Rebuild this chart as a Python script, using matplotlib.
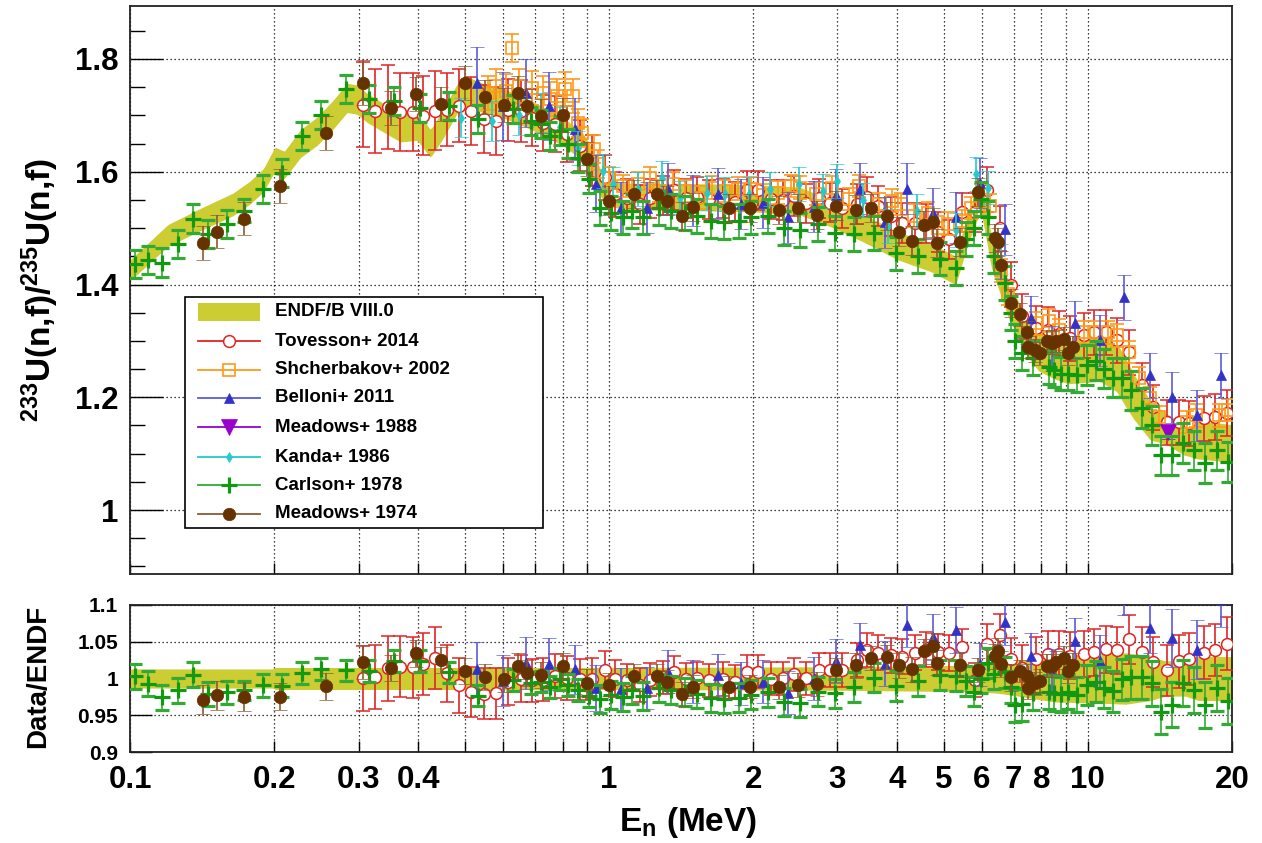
import numpy as np
import matplotlib
matplotlib.use("Agg")
import matplotlib.pyplot as plt
from matplotlib.patches import Rectangle
from matplotlib.lines import Line2D
from matplotlib.ticker import FixedLocator, FixedFormatter, NullLocator

plt.rcParams['font.family'] = ['Liberation Sans', 'DejaVu Sans']
plt.rcParams['font.weight'] = 'bold'
plt.rcParams['mathtext.fontset'] = 'custom'
plt.rcParams['mathtext.rm'] = 'Liberation Sans:bold'
plt.rcParams['mathtext.bf'] = 'Liberation Sans:bold'
plt.rcParams['mathtext.it'] = 'Liberation Sans:bold'

# ---------------- data ----------------
endf_E = [0.1, 0.12, 0.14, 0.164, 0.178, 0.19, 0.2, 0.21, 0.227, 0.246, 0.266, 0.284, 0.298,
          0.313, 0.338, 0.367, 0.398, 0.424, 0.451, 0.483, 0.505, 0.548, 0.6, 0.69, 0.8, 0.88,
          0.92, 0.96, 1.0, 1.1, 1.5, 2.0, 2.5, 2.9, 3.4, 4.0, 4.7, 5.3, 5.6, 5.87, 6.0, 6.3,
          6.8, 7.5, 7.9, 9.1, 10.6, 11.5, 12.5, 13.5, 14.7, 15.9, 17.2, 20.0]
endf_val = [1.425, 1.487, 1.515, 1.542, 1.563, 1.585, 1.62, 1.612, 1.65, 1.672, 1.702, 1.731,
            1.728, 1.713, 1.696, 1.678, 1.681, 1.65, 1.685, 1.731, 1.743, 1.73, 1.722, 1.70,
            1.672, 1.645, 1.62, 1.58, 1.562, 1.556, 1.555, 1.553, 1.548, 1.527, 1.50, 1.469,
            1.448, 1.425, 1.495, 1.543, 1.554, 1.455, 1.375, 1.305, 1.283, 1.265, 1.271, 1.253,
            1.20, 1.159, 1.142, 1.124, 1.124, 1.118]
unc_E = [0.1, 0.199, 0.201, 1.0, 3.0, 5.8, 6.5, 7.5, 8.5, 10.0, 12.0, 13.5, 14.5, 16.0, 17.0, 20.0]
unc_rel = [0.013, 0.013, 0.015, 0.015, 0.016, 0.018, 0.02, 0.026, 0.032, 0.033, 0.035, 0.03,
           0.024, 0.024, 0.03, 0.03]

tov_E = [0.307, 0.325, 0.345, 0.366, 0.39, 0.41, 0.433, 0.46, 0.486, 0.515, 0.548, 0.58, 0.616,
         0.654, 0.69, 0.73, 0.77, 0.816, 0.87, 0.92, 0.98, 1.03, 1.09, 1.16, 1.22, 1.30, 1.37,
         1.45, 1.53, 1.62, 1.73, 1.83, 1.94, 2.05, 2.18, 2.31, 2.44, 2.58, 2.75, 2.9, 3.07, 3.3,
         3.46, 3.65, 3.89, 4.1, 4.36, 4.6, 4.87, 5.14, 5.47, 5.8, 6.17, 6.54, 6.9, 7.3, 7.8,
         8.25, 8.7, 9.2, 9.8, 10.3, 10.9, 11.5, 12.2, 13.0, 13.7, 14.6, 15.5, 16.3, 17.5, 18.4,
         19.5]
tov_v = [1.719, 1.708, 1.715, 1.706, 1.706, 1.699, 1.708, 1.71, 1.717, 1.708, 1.694, 1.69, 1.71,
         1.708, 1.696, 1.687, 1.685, 1.667, 1.646, 1.62, 1.59, 1.56, 1.553, 1.542, 1.553, 1.558,
         1.568, 1.553, 1.555, 1.551, 1.553, 1.547, 1.567, 1.567, 1.551, 1.55, 1.557, 1.544, 1.553,
         1.545, 1.535, 1.543, 1.555, 1.539, 1.521, 1.509, 1.509, 1.508, 1.493, 1.48, 1.528, 1.528,
         1.568, 1.50, 1.40, 1.344, 1.322, 1.32, 1.313, 1.305, 1.31, 1.315, 1.315, 1.301, 1.28,
         1.221, 1.182, 1.156, 1.156, 1.154, 1.163, 1.165, 1.172]
tov_err = [0.075, 0.075, 0.075, 0.07, 0.07, 0.07, 0.07, 0.065, 0.065, 0.06, 0.06, 0.06, 0.055,
           0.055, 0.05, 0.05, 0.05, 0.05, 0.045, 0.045, 0.04, 0.04, 0.035, 0.035, 0.035, 0.035,
           0.035, 0.035, 0.035, 0.035, 0.035, 0.035, 0.035, 0.035, 0.035, 0.035, 0.035, 0.035,
           0.035, 0.035, 0.035, 0.035, 0.035, 0.035, 0.035, 0.035, 0.035, 0.035, 0.035, 0.035,
           0.035, 0.035, 0.04, 0.04, 0.04, 0.04, 0.04, 0.04, 0.04, 0.04, 0.04, 0.04, 0.04, 0.04,
           0.04, 0.04, 0.04, 0.04, 0.04, 0.04, 0.04, 0.04, 0.04]

sch_E = [0.56, 0.58, 0.61, 0.628, 0.65, 0.69, 0.73, 0.755, 0.78, 0.81, 0.84, 0.86, 0.88, 0.93,
         0.95, 1.0, 1.07, 1.15, 1.22, 1.27, 1.36, 1.44, 1.54, 1.64, 1.74, 1.86, 1.98, 2.1, 2.25,
         2.4, 2.51, 2.7, 2.92, 3.17, 3.33, 3.67, 3.9, 4.08, 4.33, 4.64, 4.87, 5.1, 5.45, 5.7,
         5.98, 6.26, 6.6, 6.8, 7.8, 8.3, 8.7, 9.8, 10.3, 11.0, 11.5, 12.2, 12.8, 13.5, 14.1,
         16.1, 16.8, 18.8, 19.6]
sch_v = [1.74, 1.752, 1.743, 1.82, 1.752, 1.749, 1.74, 1.729, 1.735, 1.747, 1.735, 1.687, 1.669,
         1.64, 1.614, 1.589, 1.575, 1.579, 1.589, 1.566, 1.579, 1.566, 1.554, 1.572, 1.566, 1.57,
         1.57, 1.558, 1.563, 1.575, 1.572, 1.561, 1.572, 1.552, 1.575, 1.543, 1.549, 1.543, 1.522,
         1.527, 1.501, 1.508, 1.513, 1.536, 1.558, 1.54, 1.425, 1.384, 1.331, 1.336, 1.319, 1.315,
         1.315, 1.315, 1.31, 1.28, 1.234, 1.198, 1.165, 1.156, 1.168, 1.168, 1.177]
sch_err = [0.03, 0.03, 0.03, 0.025, 0.03, 0.03, 0.03, 0.03, 0.03, 0.03, 0.03, 0.025, 0.025, 0.025,
           0.025, 0.02, 0.02, 0.02, 0.02, 0.02, 0.02, 0.02, 0.02, 0.02, 0.02, 0.02, 0.02, 0.02,
           0.02, 0.02, 0.02, 0.02, 0.02, 0.02, 0.02, 0.02, 0.02, 0.02, 0.02, 0.02, 0.02, 0.02,
           0.02, 0.02, 0.02, 0.02, 0.02, 0.02, 0.02, 0.02, 0.02, 0.02, 0.02, 0.02, 0.02, 0.02,
           0.02, 0.02, 0.02, 0.02, 0.02, 0.02, 0.02]

bel_E = [0.53, 0.60, 0.67, 0.75, 0.85, 0.94, 1.06, 1.2, 1.33, 1.5, 1.69, 1.89, 2.1, 2.37, 2.68,
         2.98, 3.35, 3.77, 4.2, 4.75, 5.3, 5.95, 6.7, 7.6, 8.4, 9.4, 10.6, 11.9, 13.5, 15.0,
         16.9, 19.0]
bel_v = [1.757, 1.717, 1.74, 1.717, 1.676, 1.579, 1.536, 1.536, 1.57, 1.549, 1.561, 1.543, 1.545,
         1.519, 1.538, 1.559, 1.57, 1.51, 1.57, 1.527, 1.519, 1.58, 1.498, 1.34, 1.287, 1.331,
         1.301, 1.377, 1.239, 1.20, 1.168, 1.239]
bel_err = [0.065, 0.06, 0.06, 0.06, 0.055, 0.05, 0.045, 0.045, 0.045, 0.045, 0.045, 0.045, 0.045,
           0.045, 0.045, 0.045, 0.045, 0.045, 0.045, 0.045, 0.045, 0.045, 0.045, 0.04, 0.04,
           0.04, 0.045, 0.04, 0.04, 0.045, 0.045, 0.04]

m88_E = [14.7]
m88_v = [1.138]
m88_err = [0.012]

kan_E = [0.49, 0.57, 0.65, 0.72, 0.79, 0.86, 0.97, 1.02, 1.15, 1.29, 1.41, 1.6, 1.75, 1.96, 2.17,
         2.5, 2.8, 3.0, 3.4, 3.82, 4.4, 5.3, 5.85, 6.2, 6.6]
kan_v = [1.696, 1.69, 1.70, 1.705, 1.68, 1.642, 1.602, 1.579, 1.57, 1.589, 1.554, 1.563, 1.561,
         1.561, 1.57, 1.579, 1.566, 1.584, 1.55, 1.504, 1.531, 1.496, 1.596, 1.572, 1.442]
kan_err = [0.035, 0.035, 0.035, 0.035, 0.035, 0.03, 0.03, 0.03, 0.03, 0.03, 0.03, 0.03, 0.03,
           0.03, 0.03, 0.03, 0.03, 0.03, 0.03, 0.03, 0.03, 0.03, 0.03, 0.03, 0.03]

car_E = [0.1024, 0.109, 0.1165, 0.126, 0.1355, 0.1456, 0.1595, 0.173, 0.190, 0.208, 0.229, 0.251,
         0.282, 0.315, 0.355, 0.404, 0.463, 0.534, 0.63, 0.687, 0.72, 0.755, 0.79, 0.82, 0.86,
         0.91, 0.96, 1.01, 1.07, 1.12, 1.18, 1.27, 1.35, 1.44, 1.53, 1.63, 1.74, 1.87, 1.98,
         2.15, 2.32, 2.51, 2.73, 2.97, 3.25, 3.58, 3.98, 4.43, 4.92, 5.3, 5.56, 5.78, 5.98, 6.2,
         6.38, 6.7, 6.9, 7.05, 7.3, 7.7, 8.3, 8.5, 8.8, 9.1, 9.5, 9.95, 10.4, 10.8, 11.3, 11.8,
         12.3, 13.0, 13.6, 14.2, 15.0, 15.8, 16.7, 17.6, 18.6, 19.6]
car_v = [1.437, 1.444, 1.439, 1.472, 1.517, 1.49, 1.508, 1.531, 1.57, 1.598, 1.664, 1.701, 1.747,
         1.729, 1.726, 1.713, 1.717, 1.694, 1.711, 1.69, 1.685, 1.664, 1.673, 1.65, 1.625, 1.588,
         1.535, 1.527, 1.519, 1.531, 1.519, 1.536, 1.531, 1.527, 1.522, 1.513, 1.51, 1.513, 1.519,
         1.522, 1.50, 1.496, 1.508, 1.492, 1.49, 1.492, 1.455, 1.451, 1.446, 1.43, 1.481, 1.50,
         1.552, 1.519, 1.451, 1.402, 1.349, 1.30, 1.278, 1.269, 1.253, 1.248, 1.242, 1.242, 1.239,
         1.257, 1.265, 1.251, 1.235, 1.235, 1.212, 1.181, 1.15, 1.097, 1.097, 1.119, 1.106, 1.083,
         1.106, 1.085]
car_err = [0.025, 0.025, 0.025, 0.025, 0.025, 0.025, 0.025, 0.02, 0.025, 0.025, 0.025, 0.025,
           0.025, 0.025, 0.025, 0.025, 0.025, 0.025, 0.025, 0.025, 0.025, 0.025, 0.025, 0.025,
           0.025, 0.025, 0.03, 0.03, 0.03, 0.03, 0.03, 0.03, 0.03, 0.03, 0.03, 0.03, 0.03, 0.03,
           0.03, 0.03, 0.03, 0.03, 0.03, 0.03, 0.03, 0.03, 0.03, 0.03, 0.03, 0.03, 0.03, 0.03,
           0.03, 0.03, 0.03, 0.03, 0.03, 0.03, 0.03, 0.03, 0.03, 0.03, 0.03, 0.03, 0.03, 0.035,
           0.035, 0.035, 0.035, 0.035, 0.035, 0.035, 0.035, 0.035, 0.035, 0.035, 0.035, 0.035,
           0.035, 0.035]

m74_E = [0.142, 0.152, 0.173, 0.206, 0.256, 0.306, 0.35, 0.396, 0.445, 0.50, 0.55, 0.603, 0.645,
         0.676, 0.72, 0.80, 0.90, 1.0, 1.13, 1.26, 1.32, 1.42, 1.50, 1.78, 1.97, 2.27, 2.48, 2.72,
         2.98, 3.28, 3.52, 3.8, 4.04, 4.3, 4.55, 4.75, 4.85, 5.4, 5.9, 6.4, 6.5, 6.6, 6.9, 7.2,
         7.45, 7.5, 7.75, 7.95, 8.2, 8.4, 8.6, 8.9, 9.1, 9.3]
m74_v = [1.474, 1.494, 1.517, 1.575, 1.669, 1.758, 1.713, 1.738, 1.72, 1.758, 1.733, 1.719, 1.74,
         1.717, 1.699, 1.70, 1.623, 1.549, 1.561, 1.561, 1.549, 1.522, 1.538, 1.535, 1.536, 1.532,
         1.535, 1.524, 1.54, 1.533, 1.535, 1.522, 1.494, 1.478, 1.506, 1.51, 1.473, 1.476, 1.564,
         1.482, 1.476, 1.434, 1.367, 1.347, 1.315, 1.289, 1.283, 1.278, 1.30, 1.297, 1.30, 1.304,
         1.278, 1.289]
m74_err = [0.03, 0.03, 0.03, 0.03, 0.03, 0.04, 0.03, 0.03, 0.03, 0.03, 0.03, 0.03, 0.03, 0.03,
           0.03, 0.03, 0.03, 0.025, 0.025, 0.025, 0.025, 0.025, 0.025, 0.025, 0.025, 0.025, 0.025,
           0.025, 0.025, 0.025, 0.025, 0.025, 0.025, 0.025, 0.025, 0.025, 0.025, 0.025, 0.025,
           0.025, 0.025, 0.025, 0.025, 0.02, 0.02, 0.02, 0.02, 0.02, 0.02, 0.02, 0.02, 0.02, 0.02,
           0.02]

xtick_vals = [0.1, 0.2, 0.3, 0.4, 0.5, 0.6, 0.7, 0.8, 0.9, 1, 2, 3, 4, 5, 6, 7, 8, 9, 10, 20]
xtick_labels = ['0.1', '0.2', '0.3', '0.4', '', '', '', '', '', '1', '2', '3', '4', '5', '6',
                '7', '8', '', '10', '20']
legend_labels = ['ENDF/B VIII.0', 'Tovesson+ 2014', 'Shcherbakov+ 2002', 'Belloni+ 2011',
                 'Meadows+ 1988', 'Kanda+ 1986', 'Carlson+ 1978', 'Meadows+ 1974']

# ---------------- styles ----------------
BAND = '#cccc33'
RED = '#e02424'
ORANGE = '#ff9a1a'
BLUE = '#3232c8'
BLUE_E = '#5a5ae0'
PURPLE = '#9900cc'
CYAN = '#22cccc'
GREEN = '#119911'
GREEN_E = '#33aa33'
BROWN = '#663300'
BROWN_E = '#8a5a30'

W, H = 1262, 843
fig = plt.figure(figsize=(W / 100, H / 100), dpi=100)
L, R = 130, 1232
ax1 = fig.add_axes([L / W, 1 - 574 / H, (R - L) / W, (574 - 6) / H])
ax2 = fig.add_axes([L / W, 1 - 752 / H, (R - L) / W, (752 - 605) / H])

eE = np.array(endf_E)
logE = np.log(eE)
def endf_at(E):
    return np.interp(np.log(np.asarray(E)), logE, np.array(endf_val))
def unc_at(E):
    return np.interp(np.log(np.asarray(E)), np.log(unc_E), np.array(unc_rel))

Ef = np.exp(np.linspace(np.log(0.1), np.log(20.0), 600))
cen = endf_at(Ef)
u = unc_at(Ef)
ax1.fill_between(Ef, cen * (1 - u), cen * (1 + u), color=BAND, lw=0, zorder=2)
ax2.fill_between(Ef, 1 - u, 1 + u, color=BAND, lw=0, zorder=2)

series = [
    dict(E=tov_E, v=tov_v, e=tov_err, fmt='o', c=RED, ec=RED, ms=8.5, mfc='white', mew=1.1, ratio=True, z=4),
    dict(E=sch_E, v=sch_v, e=sch_err, fmt='s', c=ORANGE, ec=ORANGE, ms=8, mfc='none', mew=1.2, ratio=False, z=5),
    dict(E=bel_E, v=bel_v, e=bel_err, fmt='^', c=BLUE, ec=BLUE_E, ms=7, mfc=BLUE, mew=0.5, ratio=True, z=6),
    dict(E=m88_E, v=m88_v, e=m88_err, fmt='v', c=PURPLE, ec=PURPLE, ms=12, mfc=PURPLE, mew=0.5, ratio=False, z=7),
    dict(E=kan_E, v=kan_v, e=kan_err, fmt='d', c=CYAN, ec=CYAN, ms=5, mfc=CYAN, mew=0.5, ratio=False, z=8),
    dict(E=car_E, v=car_v, e=car_err, fmt='+', c=GREEN, ec=GREEN_E, ms=11, mfc=GREEN, mew=2.3, ratio=True, z=9),
    dict(E=m74_E, v=m74_v, e=m74_err, fmt='o', c=BROWN, ec=BROWN_E, ms=9, mfc=BROWN, mew=0.5, ratio=True, z=10),
]

for s in series:
    E = np.array(s['E']); v = np.array(s['v']); e = np.array(s['e'])
    kw = dict(fmt=s['fmt'], color=s['c'], ecolor=s['ec'], ms=s['ms'], mfc=s['mfc'], mec=s['c'],
              mew=s['mew'], elinewidth=1.2, capsize=5, capthick=1.2, zorder=s['z'])
    ax1.errorbar(E, v, yerr=e, **kw)
    if s['ratio']:
        en = endf_at(E)
        ax2.errorbar(E, v / en, yerr=e / en, **kw)

for ax in (ax1, ax2):
    ax.set_xscale('log')
    ax.set_xlim(0.1, 20)
    ax.xaxis.set_major_locator(FixedLocator(xtick_vals))
    ax.xaxis.set_minor_locator(NullLocator())
    ax.set_axisbelow(True)
    ax.grid(True, axis='x', which='major', color='black', linestyle=(0, (1, 2.2)), linewidth=0.9)
    ax.grid(True, axis='y', which='major', color='black', linestyle=(0, (1, 2.2)), linewidth=0.9)
    for sp in ax.spines.values():
        sp.set_linewidth(1.3)
        sp.set_color('#222222')
    ax.tick_params(axis='x', which='major', direction='in', length=8, width=1.0, top=False)

ax1.xaxis.set_major_formatter(FixedFormatter([''] * len(xtick_vals)))
ax2.xaxis.set_major_formatter(FixedFormatter(xtick_labels))
ax2.tick_params(axis='x', which='major', labelsize=22.5, pad=9.5)

ax1.set_ylim(0.8865, 1.894)
ax1.set_yticks([1.0, 1.2, 1.4, 1.6, 1.8])
ax1.set_yticklabels(['1', '1.2', '1.4', '1.6', '1.8'])
ax1.set_yticks(np.arange(0.9, 1.9, 0.05), minor=True)
ax1.tick_params(axis='y', which='major', direction='in', length=24, width=1.0, labelsize=22.5, pad=8.5)
ax1.tick_params(axis='y', which='minor', direction='in', length=11, width=1.0)

ax2.set_ylim(0.9, 1.1)
ax2.set_yticks([0.9, 0.95, 1.0, 1.05, 1.1])
ax2.set_yticklabels(['0.9', '0.95', '1', '1.05', '1.1'])
ax2.tick_params(axis='y', which='major', direction='in', length=16, width=1.0, labelsize=15, pad=8.5)

fig.text(40 / W, 1 - 290 / H, r'$\mathbf{{}^{233}U(n{,}f)/{}^{235}U(n{,}f)}$', rotation=90,
         ha='center', va='center', fontsize=24)
fig.text(38 / W, 1 - 676 / H, 'Data/ENDF', rotation=90, ha='center', va='center',
         fontsize=20, fontweight='bold')
fig.text(688 / W, 1 - 831 / H, r'E$_\mathbf{n}$ (MeV)', ha='center', va='baseline',
         fontsize=24, fontweight='bold')

# ---------------- legend (drawn in axes coordinates) ----------------
def axx(px):
    return (px - L) / (R - L)
def axy(py):
    return (574 - py) / 568.0

tr = ax1.transAxes
ax1.add_patch(Rectangle((axx(185), axy(528)), axx(543) - axx(185), axy(297) - axy(528),
                        transform=tr, facecolor='white', edgecolor='black', lw=1.2, zorder=20))
rows = [312, 341, 370, 398, 427, 457, 485, 514]
ax1.add_patch(Rectangle((axx(198), axy(321)), axx(260) - axx(198), axy(303) - axy(321),
                        transform=tr, facecolor=BAND, edgecolor='none', zorder=21))
for i, s in enumerate(series):
    yy = axy(rows[i + 1])
    ax1.add_line(Line2D([axx(198), axx(260)], [yy, yy], transform=tr, color=s['ec'],
                        lw=1.3, zorder=21))
    ax1.add_line(Line2D([axx(229)], [yy], transform=tr, marker=s['fmt'], ms=s['ms'],
                        mfc=s['mfc'], mec=s['c'], mew=s['mew'], color=s['c'], zorder=22))
for i, lab in enumerate(legend_labels):
    ax1.text(axx(275), axy(rows[i]), lab, transform=tr, ha='left', va='center',
             fontsize=13.5, fontweight='bold', zorder=23)

fig.savefig('out.png', dpi=100)
